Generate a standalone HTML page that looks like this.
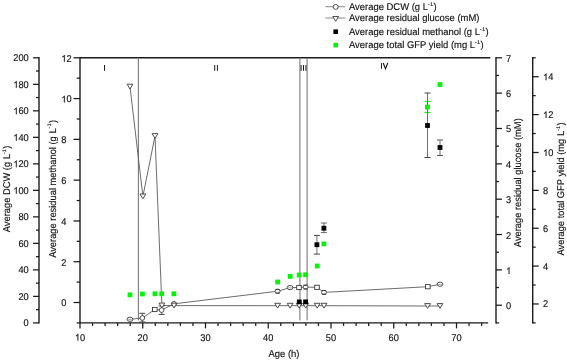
<!DOCTYPE html>
<html><head><meta charset="utf-8"><style>
html,body{margin:0;padding:0;background:#fff;overflow:hidden;width:567px;height:360px;}
svg{display:block;}
text{font-family:"Liberation Sans", sans-serif;text-rendering:geometricPrecision;fill:#111;stroke:#111;stroke-width:0.15;}
</style></head><body>
<div style="will-change:transform;width:567px;height:360px">
<svg width="567" height="360" viewBox="0 0 567 360">
<line x1="80.00" y1="57.80" x2="490.30" y2="57.80" stroke="#1a1a1a" stroke-width="1.4" />
<line x1="80.00" y1="322.90" x2="488.20" y2="322.90" stroke="#1a1a1a" stroke-width="1.4" />
<line x1="80.00" y1="57.10" x2="80.00" y2="323.60" stroke="#1a1a1a" stroke-width="1.4" />
<line x1="80.00" y1="322.90" x2="80.00" y2="328.40" stroke="#1a1a1a" stroke-width="1.25" />
<path transform="translate(74.849,340.600) scale(0.004522,-0.004599)" d="M763,0 L583,0 L583,1147 Q518,1085 412.5,1023 Q307,961 223,930 L223,1104 Q374,1175 487,1276 Q600,1377 641,1466 L763,1466 Z" fill="#111" stroke="#111" stroke-width="31.3"/>
<text transform="translate(80.000,340.600) scale(0.945,1)" font-size="9.8">0</text>
<line x1="92.55" y1="322.90" x2="92.55" y2="325.90" stroke="#1a1a1a" stroke-width="1.25" />
<line x1="105.10" y1="322.90" x2="105.10" y2="325.90" stroke="#1a1a1a" stroke-width="1.25" />
<line x1="117.65" y1="322.90" x2="117.65" y2="325.90" stroke="#1a1a1a" stroke-width="1.25" />
<line x1="130.20" y1="322.90" x2="130.20" y2="325.90" stroke="#1a1a1a" stroke-width="1.25" />
<line x1="142.75" y1="322.90" x2="142.75" y2="328.40" stroke="#1a1a1a" stroke-width="1.25" />
<text transform="translate(137.599,340.600) scale(0.945,1)" font-size="9.8">2</text>
<text transform="translate(142.750,340.600) scale(0.945,1)" font-size="9.8">0</text>
<line x1="155.30" y1="322.90" x2="155.30" y2="325.90" stroke="#1a1a1a" stroke-width="1.25" />
<line x1="167.85" y1="322.90" x2="167.85" y2="325.90" stroke="#1a1a1a" stroke-width="1.25" />
<line x1="180.40" y1="322.90" x2="180.40" y2="325.90" stroke="#1a1a1a" stroke-width="1.25" />
<line x1="192.95" y1="322.90" x2="192.95" y2="325.90" stroke="#1a1a1a" stroke-width="1.25" />
<line x1="205.50" y1="322.90" x2="205.50" y2="328.40" stroke="#1a1a1a" stroke-width="1.25" />
<text transform="translate(200.349,340.600) scale(0.945,1)" font-size="9.8">3</text>
<text transform="translate(205.500,340.600) scale(0.945,1)" font-size="9.8">0</text>
<line x1="218.05" y1="322.90" x2="218.05" y2="325.90" stroke="#1a1a1a" stroke-width="1.25" />
<line x1="230.60" y1="322.90" x2="230.60" y2="325.90" stroke="#1a1a1a" stroke-width="1.25" />
<line x1="243.15" y1="322.90" x2="243.15" y2="325.90" stroke="#1a1a1a" stroke-width="1.25" />
<line x1="255.70" y1="322.90" x2="255.70" y2="325.90" stroke="#1a1a1a" stroke-width="1.25" />
<line x1="268.25" y1="322.90" x2="268.25" y2="328.40" stroke="#1a1a1a" stroke-width="1.25" />
<text transform="translate(263.099,340.600) scale(0.945,1)" font-size="9.8">4</text>
<text transform="translate(268.250,340.600) scale(0.945,1)" font-size="9.8">0</text>
<line x1="280.80" y1="322.90" x2="280.80" y2="325.90" stroke="#1a1a1a" stroke-width="1.25" />
<line x1="293.35" y1="322.90" x2="293.35" y2="325.90" stroke="#1a1a1a" stroke-width="1.25" />
<line x1="305.90" y1="322.90" x2="305.90" y2="325.90" stroke="#1a1a1a" stroke-width="1.25" />
<line x1="318.45" y1="322.90" x2="318.45" y2="325.90" stroke="#1a1a1a" stroke-width="1.25" />
<line x1="331.00" y1="322.90" x2="331.00" y2="328.40" stroke="#1a1a1a" stroke-width="1.25" />
<text transform="translate(325.849,340.600) scale(0.945,1)" font-size="9.8">5</text>
<text transform="translate(331.000,340.600) scale(0.945,1)" font-size="9.8">0</text>
<line x1="343.55" y1="322.90" x2="343.55" y2="325.90" stroke="#1a1a1a" stroke-width="1.25" />
<line x1="356.10" y1="322.90" x2="356.10" y2="325.90" stroke="#1a1a1a" stroke-width="1.25" />
<line x1="368.65" y1="322.90" x2="368.65" y2="325.90" stroke="#1a1a1a" stroke-width="1.25" />
<line x1="381.20" y1="322.90" x2="381.20" y2="325.90" stroke="#1a1a1a" stroke-width="1.25" />
<line x1="393.75" y1="322.90" x2="393.75" y2="328.40" stroke="#1a1a1a" stroke-width="1.25" />
<text transform="translate(388.599,340.600) scale(0.945,1)" font-size="9.8">6</text>
<text transform="translate(393.750,340.600) scale(0.945,1)" font-size="9.8">0</text>
<line x1="406.30" y1="322.90" x2="406.30" y2="325.90" stroke="#1a1a1a" stroke-width="1.25" />
<line x1="418.85" y1="322.90" x2="418.85" y2="325.90" stroke="#1a1a1a" stroke-width="1.25" />
<line x1="431.40" y1="322.90" x2="431.40" y2="325.90" stroke="#1a1a1a" stroke-width="1.25" />
<line x1="443.95" y1="322.90" x2="443.95" y2="325.90" stroke="#1a1a1a" stroke-width="1.25" />
<line x1="456.50" y1="322.90" x2="456.50" y2="328.40" stroke="#1a1a1a" stroke-width="1.25" />
<text transform="translate(451.349,340.600) scale(0.945,1)" font-size="9.8">7</text>
<text transform="translate(456.500,340.600) scale(0.945,1)" font-size="9.8">0</text>
<line x1="469.05" y1="322.90" x2="469.05" y2="325.90" stroke="#1a1a1a" stroke-width="1.25" />
<line x1="481.60" y1="322.90" x2="481.60" y2="325.90" stroke="#1a1a1a" stroke-width="1.25" />
<line x1="39.00" y1="57.10" x2="39.00" y2="323.60" stroke="#1a1a1a" stroke-width="1.4" />
<line x1="33.00" y1="322.90" x2="39.00" y2="322.90" stroke="#1a1a1a" stroke-width="1.25" />
<text transform="translate(23.549,326.300) scale(0.945,1)" font-size="9.8">0</text>
<line x1="36.00" y1="309.64" x2="39.00" y2="309.64" stroke="#1a1a1a" stroke-width="1.25" />
<line x1="33.00" y1="296.39" x2="39.00" y2="296.39" stroke="#1a1a1a" stroke-width="1.25" />
<text transform="translate(18.399,299.790) scale(0.945,1)" font-size="9.8">2</text>
<text transform="translate(23.549,299.790) scale(0.945,1)" font-size="9.8">0</text>
<line x1="36.00" y1="283.13" x2="39.00" y2="283.13" stroke="#1a1a1a" stroke-width="1.25" />
<line x1="33.00" y1="269.88" x2="39.00" y2="269.88" stroke="#1a1a1a" stroke-width="1.25" />
<text transform="translate(18.399,273.280) scale(0.945,1)" font-size="9.8">4</text>
<text transform="translate(23.549,273.280) scale(0.945,1)" font-size="9.8">0</text>
<line x1="36.00" y1="256.62" x2="39.00" y2="256.62" stroke="#1a1a1a" stroke-width="1.25" />
<line x1="33.00" y1="243.37" x2="39.00" y2="243.37" stroke="#1a1a1a" stroke-width="1.25" />
<text transform="translate(18.399,246.770) scale(0.945,1)" font-size="9.8">6</text>
<text transform="translate(23.549,246.770) scale(0.945,1)" font-size="9.8">0</text>
<line x1="36.00" y1="230.12" x2="39.00" y2="230.12" stroke="#1a1a1a" stroke-width="1.25" />
<line x1="33.00" y1="216.86" x2="39.00" y2="216.86" stroke="#1a1a1a" stroke-width="1.25" />
<text transform="translate(18.399,220.260) scale(0.945,1)" font-size="9.8">8</text>
<text transform="translate(23.549,220.260) scale(0.945,1)" font-size="9.8">0</text>
<line x1="36.00" y1="203.60" x2="39.00" y2="203.60" stroke="#1a1a1a" stroke-width="1.25" />
<line x1="33.00" y1="190.35" x2="39.00" y2="190.35" stroke="#1a1a1a" stroke-width="1.25" />
<path transform="translate(13.248,193.750) scale(0.004522,-0.004599)" d="M763,0 L583,0 L583,1147 Q518,1085 412.5,1023 Q307,961 223,930 L223,1104 Q374,1175 487,1276 Q600,1377 641,1466 L763,1466 Z" fill="#111" stroke="#111" stroke-width="31.3"/>
<text transform="translate(18.399,193.750) scale(0.945,1)" font-size="9.8">0</text>
<text transform="translate(23.549,193.750) scale(0.945,1)" font-size="9.8">0</text>
<line x1="36.00" y1="177.09" x2="39.00" y2="177.09" stroke="#1a1a1a" stroke-width="1.25" />
<line x1="33.00" y1="163.84" x2="39.00" y2="163.84" stroke="#1a1a1a" stroke-width="1.25" />
<path transform="translate(13.248,167.240) scale(0.004522,-0.004599)" d="M763,0 L583,0 L583,1147 Q518,1085 412.5,1023 Q307,961 223,930 L223,1104 Q374,1175 487,1276 Q600,1377 641,1466 L763,1466 Z" fill="#111" stroke="#111" stroke-width="31.3"/>
<text transform="translate(18.399,167.240) scale(0.945,1)" font-size="9.8">2</text>
<text transform="translate(23.549,167.240) scale(0.945,1)" font-size="9.8">0</text>
<line x1="36.00" y1="150.59" x2="39.00" y2="150.59" stroke="#1a1a1a" stroke-width="1.25" />
<line x1="33.00" y1="137.33" x2="39.00" y2="137.33" stroke="#1a1a1a" stroke-width="1.25" />
<path transform="translate(13.248,140.730) scale(0.004522,-0.004599)" d="M763,0 L583,0 L583,1147 Q518,1085 412.5,1023 Q307,961 223,930 L223,1104 Q374,1175 487,1276 Q600,1377 641,1466 L763,1466 Z" fill="#111" stroke="#111" stroke-width="31.3"/>
<text transform="translate(18.399,140.730) scale(0.945,1)" font-size="9.8">4</text>
<text transform="translate(23.549,140.730) scale(0.945,1)" font-size="9.8">0</text>
<line x1="36.00" y1="124.08" x2="39.00" y2="124.08" stroke="#1a1a1a" stroke-width="1.25" />
<line x1="33.00" y1="110.82" x2="39.00" y2="110.82" stroke="#1a1a1a" stroke-width="1.25" />
<path transform="translate(13.248,114.220) scale(0.004522,-0.004599)" d="M763,0 L583,0 L583,1147 Q518,1085 412.5,1023 Q307,961 223,930 L223,1104 Q374,1175 487,1276 Q600,1377 641,1466 L763,1466 Z" fill="#111" stroke="#111" stroke-width="31.3"/>
<text transform="translate(18.399,114.220) scale(0.945,1)" font-size="9.8">6</text>
<text transform="translate(23.549,114.220) scale(0.945,1)" font-size="9.8">0</text>
<line x1="36.00" y1="97.57" x2="39.00" y2="97.57" stroke="#1a1a1a" stroke-width="1.25" />
<line x1="33.00" y1="84.31" x2="39.00" y2="84.31" stroke="#1a1a1a" stroke-width="1.25" />
<path transform="translate(13.248,87.710) scale(0.004522,-0.004599)" d="M763,0 L583,0 L583,1147 Q518,1085 412.5,1023 Q307,961 223,930 L223,1104 Q374,1175 487,1276 Q600,1377 641,1466 L763,1466 Z" fill="#111" stroke="#111" stroke-width="31.3"/>
<text transform="translate(18.399,87.710) scale(0.945,1)" font-size="9.8">8</text>
<text transform="translate(23.549,87.710) scale(0.945,1)" font-size="9.8">0</text>
<line x1="36.00" y1="71.06" x2="39.00" y2="71.06" stroke="#1a1a1a" stroke-width="1.25" />
<line x1="33.00" y1="57.80" x2="39.00" y2="57.80" stroke="#1a1a1a" stroke-width="1.25" />
<text transform="translate(13.248,61.200) scale(0.945,1)" font-size="9.8">2</text>
<text transform="translate(18.399,61.200) scale(0.945,1)" font-size="9.8">0</text>
<text transform="translate(23.549,61.200) scale(0.945,1)" font-size="9.8">0</text>
<line x1="76.70" y1="322.90" x2="80.00" y2="322.90" stroke="#1a1a1a" stroke-width="1.25" />
<line x1="73.50" y1="302.51" x2="80.00" y2="302.51" stroke="#1a1a1a" stroke-width="1.25" />
<text transform="translate(61.300,306.408) scale(0.945,1)" font-size="9.8">0</text>
<line x1="76.70" y1="282.12" x2="80.00" y2="282.12" stroke="#1a1a1a" stroke-width="1.25" />
<line x1="73.50" y1="261.72" x2="80.00" y2="261.72" stroke="#1a1a1a" stroke-width="1.25" />
<text transform="translate(61.300,265.623) scale(0.945,1)" font-size="9.8">2</text>
<line x1="76.70" y1="241.33" x2="80.00" y2="241.33" stroke="#1a1a1a" stroke-width="1.25" />
<line x1="73.50" y1="220.94" x2="80.00" y2="220.94" stroke="#1a1a1a" stroke-width="1.25" />
<text transform="translate(61.300,224.838) scale(0.945,1)" font-size="9.8">4</text>
<line x1="76.70" y1="200.55" x2="80.00" y2="200.55" stroke="#1a1a1a" stroke-width="1.25" />
<line x1="73.50" y1="180.15" x2="80.00" y2="180.15" stroke="#1a1a1a" stroke-width="1.25" />
<text transform="translate(61.300,184.054) scale(0.945,1)" font-size="9.8">6</text>
<line x1="76.70" y1="159.76" x2="80.00" y2="159.76" stroke="#1a1a1a" stroke-width="1.25" />
<line x1="73.50" y1="139.37" x2="80.00" y2="139.37" stroke="#1a1a1a" stroke-width="1.25" />
<text transform="translate(61.300,143.269) scale(0.945,1)" font-size="9.8">8</text>
<line x1="76.70" y1="118.98" x2="80.00" y2="118.98" stroke="#1a1a1a" stroke-width="1.25" />
<line x1="73.50" y1="98.58" x2="80.00" y2="98.58" stroke="#1a1a1a" stroke-width="1.25" />
<path transform="translate(61.300,102.485) scale(0.004522,-0.004599)" d="M763,0 L583,0 L583,1147 Q518,1085 412.5,1023 Q307,961 223,930 L223,1104 Q374,1175 487,1276 Q600,1377 641,1466 L763,1466 Z" fill="#111" stroke="#111" stroke-width="31.3"/>
<text transform="translate(66.451,102.485) scale(0.945,1)" font-size="9.8">0</text>
<line x1="76.70" y1="78.19" x2="80.00" y2="78.19" stroke="#1a1a1a" stroke-width="1.25" />
<line x1="73.50" y1="57.80" x2="80.00" y2="57.80" stroke="#1a1a1a" stroke-width="1.25" />
<path transform="translate(61.300,61.700) scale(0.004522,-0.004599)" d="M763,0 L583,0 L583,1147 Q518,1085 412.5,1023 Q307,961 223,930 L223,1104 Q374,1175 487,1276 Q600,1377 641,1466 L763,1466 Z" fill="#111" stroke="#111" stroke-width="31.3"/>
<text transform="translate(66.451,61.700) scale(0.945,1)" font-size="9.8">2</text>
<line x1="496.00" y1="57.10" x2="496.00" y2="323.60" stroke="#1a1a1a" stroke-width="1.4" />
<line x1="496.00" y1="322.90" x2="499.00" y2="322.90" stroke="#1a1a1a" stroke-width="1.25" />
<line x1="496.00" y1="305.23" x2="502.00" y2="305.23" stroke="#1a1a1a" stroke-width="1.25" />
<text transform="translate(506.000,309.227) scale(0.945,1)" font-size="9.8">0</text>
<line x1="496.00" y1="287.55" x2="499.00" y2="287.55" stroke="#1a1a1a" stroke-width="1.25" />
<line x1="496.00" y1="269.88" x2="502.00" y2="269.88" stroke="#1a1a1a" stroke-width="1.25" />
<path transform="translate(506.000,273.880) scale(0.004522,-0.004599)" d="M763,0 L583,0 L583,1147 Q518,1085 412.5,1023 Q307,961 223,930 L223,1104 Q374,1175 487,1276 Q600,1377 641,1466 L763,1466 Z" fill="#111" stroke="#111" stroke-width="31.3"/>
<line x1="496.00" y1="252.21" x2="499.00" y2="252.21" stroke="#1a1a1a" stroke-width="1.25" />
<line x1="496.00" y1="234.53" x2="502.00" y2="234.53" stroke="#1a1a1a" stroke-width="1.25" />
<text transform="translate(506.000,238.533) scale(0.945,1)" font-size="9.8">2</text>
<line x1="496.00" y1="216.86" x2="499.00" y2="216.86" stroke="#1a1a1a" stroke-width="1.25" />
<line x1="496.00" y1="199.19" x2="502.00" y2="199.19" stroke="#1a1a1a" stroke-width="1.25" />
<text transform="translate(506.000,203.187) scale(0.945,1)" font-size="9.8">3</text>
<line x1="496.00" y1="181.51" x2="499.00" y2="181.51" stroke="#1a1a1a" stroke-width="1.25" />
<line x1="496.00" y1="163.84" x2="502.00" y2="163.84" stroke="#1a1a1a" stroke-width="1.25" />
<text transform="translate(506.000,167.840) scale(0.945,1)" font-size="9.8">4</text>
<line x1="496.00" y1="146.17" x2="499.00" y2="146.17" stroke="#1a1a1a" stroke-width="1.25" />
<line x1="496.00" y1="128.49" x2="502.00" y2="128.49" stroke="#1a1a1a" stroke-width="1.25" />
<text transform="translate(506.000,132.493) scale(0.945,1)" font-size="9.8">5</text>
<line x1="496.00" y1="110.82" x2="499.00" y2="110.82" stroke="#1a1a1a" stroke-width="1.25" />
<line x1="496.00" y1="93.15" x2="502.00" y2="93.15" stroke="#1a1a1a" stroke-width="1.25" />
<text transform="translate(506.000,97.147) scale(0.945,1)" font-size="9.8">6</text>
<line x1="496.00" y1="75.47" x2="499.00" y2="75.47" stroke="#1a1a1a" stroke-width="1.25" />
<line x1="496.00" y1="57.80" x2="502.00" y2="57.80" stroke="#1a1a1a" stroke-width="1.25" />
<text transform="translate(506.000,61.800) scale(0.945,1)" font-size="9.8">7</text>
<line x1="532.70" y1="57.10" x2="532.70" y2="323.60" stroke="#1a1a1a" stroke-width="1.4" />
<line x1="532.70" y1="322.90" x2="535.70" y2="322.90" stroke="#1a1a1a" stroke-width="1.25" />
<line x1="532.70" y1="303.96" x2="538.70" y2="303.96" stroke="#1a1a1a" stroke-width="1.25" />
<text transform="translate(543.000,307.464) scale(0.945,1)" font-size="9.8">2</text>
<line x1="532.70" y1="285.03" x2="535.70" y2="285.03" stroke="#1a1a1a" stroke-width="1.25" />
<line x1="532.70" y1="266.09" x2="538.70" y2="266.09" stroke="#1a1a1a" stroke-width="1.25" />
<text transform="translate(543.000,269.593) scale(0.945,1)" font-size="9.8">4</text>
<line x1="532.70" y1="247.16" x2="535.70" y2="247.16" stroke="#1a1a1a" stroke-width="1.25" />
<line x1="532.70" y1="228.22" x2="538.70" y2="228.22" stroke="#1a1a1a" stroke-width="1.25" />
<text transform="translate(543.000,231.721) scale(0.945,1)" font-size="9.8">6</text>
<line x1="532.70" y1="209.29" x2="535.70" y2="209.29" stroke="#1a1a1a" stroke-width="1.25" />
<line x1="532.70" y1="190.35" x2="538.70" y2="190.35" stroke="#1a1a1a" stroke-width="1.25" />
<text transform="translate(543.000,193.850) scale(0.945,1)" font-size="9.8">8</text>
<line x1="532.70" y1="171.41" x2="535.70" y2="171.41" stroke="#1a1a1a" stroke-width="1.25" />
<line x1="532.70" y1="152.48" x2="538.70" y2="152.48" stroke="#1a1a1a" stroke-width="1.25" />
<path transform="translate(543.000,155.979) scale(0.004522,-0.004599)" d="M763,0 L583,0 L583,1147 Q518,1085 412.5,1023 Q307,961 223,930 L223,1104 Q374,1175 487,1276 Q600,1377 641,1466 L763,1466 Z" fill="#111" stroke="#111" stroke-width="31.3"/>
<text transform="translate(548.151,155.979) scale(0.945,1)" font-size="9.8">0</text>
<line x1="532.70" y1="133.54" x2="535.70" y2="133.54" stroke="#1a1a1a" stroke-width="1.25" />
<line x1="532.70" y1="114.61" x2="538.70" y2="114.61" stroke="#1a1a1a" stroke-width="1.25" />
<path transform="translate(543.000,118.107) scale(0.004522,-0.004599)" d="M763,0 L583,0 L583,1147 Q518,1085 412.5,1023 Q307,961 223,930 L223,1104 Q374,1175 487,1276 Q600,1377 641,1466 L763,1466 Z" fill="#111" stroke="#111" stroke-width="31.3"/>
<text transform="translate(548.151,118.107) scale(0.945,1)" font-size="9.8">2</text>
<line x1="532.70" y1="95.67" x2="535.70" y2="95.67" stroke="#1a1a1a" stroke-width="1.25" />
<line x1="532.70" y1="76.74" x2="538.70" y2="76.74" stroke="#1a1a1a" stroke-width="1.25" />
<path transform="translate(543.000,80.236) scale(0.004522,-0.004599)" d="M763,0 L583,0 L583,1147 Q518,1085 412.5,1023 Q307,961 223,930 L223,1104 Q374,1175 487,1276 Q600,1377 641,1466 L763,1466 Z" fill="#111" stroke="#111" stroke-width="31.3"/>
<text transform="translate(548.151,80.236) scale(0.945,1)" font-size="9.8">4</text>
<line x1="532.70" y1="57.80" x2="535.70" y2="57.80" stroke="#1a1a1a" stroke-width="1.25" />
<line x1="138.40" y1="57.80" x2="138.40" y2="320.60" stroke="#7a7a7a" stroke-width="1.1" />
<line x1="299.90" y1="57.80" x2="299.90" y2="320.60" stroke="#7a7a7a" stroke-width="1.1" />
<line x1="307.10" y1="57.80" x2="307.10" y2="320.60" stroke="#7a7a7a" stroke-width="1.1" />
<rect x="104.00" y="65.0" width="1.0" height="5.80" fill="#1e1e1e"/>
<rect x="214.20" y="65.0" width="1.0" height="5.80" fill="#1e1e1e"/>
<rect x="216.90" y="65.0" width="1.0" height="5.80" fill="#1e1e1e"/>
<rect x="300.60" y="65.0" width="1.0" height="5.80" fill="#1e1e1e"/>
<rect x="303.00" y="65.0" width="1.0" height="5.80" fill="#1e1e1e"/>
<rect x="305.40" y="65.0" width="1.0" height="5.80" fill="#1e1e1e"/>
<rect x="381.00" y="63.0" width="1.0" height="5.80" fill="#1e1e1e"/>
<polyline points="383.2,63.0 385.5,68.8 387.8,63.0" fill="none" stroke="#1e1e1e" stroke-width="1.15" stroke-linejoin="miter"/>
<polyline fill="none" stroke="#5a5a5a" stroke-width="0.9" points="130,319.3 142.3,318.0 154.8,309.5 161.6,310.1 174.0,303.8 277.6,291.25 290.1,287.6 299.0,287.5 305.6,287.1 317.0,287.3 324.0,292.4 427.8,286.7 440.0,284.2"/>
<polyline fill="none" stroke="#5a5a5a" stroke-width="0.9" points="130,86.6 142.9,196.4 155,136 161.9,305.5 174.0,305.6 277.6,305.7 290.1,305.7 299.2,305.7 305.7,305.7 317.2,305.7 324.0,305.7 427.6,306.0 440.0,306.0"/>
<line x1="142.30" y1="313.30" x2="142.30" y2="322.00" stroke="#444" stroke-width="0.9" />
<line x1="139.40" y1="313.30" x2="145.20" y2="313.30" stroke="#444" stroke-width="1.0" />
<line x1="139.40" y1="322.00" x2="145.20" y2="322.00" stroke="#444" stroke-width="1.0" />
<line x1="161.60" y1="306.00" x2="161.60" y2="314.40" stroke="#444" stroke-width="0.9" />
<line x1="158.60" y1="306.00" x2="164.60" y2="306.00" stroke="#444" stroke-width="1.0" />
<line x1="158.60" y1="314.40" x2="164.60" y2="314.40" stroke="#444" stroke-width="1.0" />
<ellipse cx="130" cy="319.3" rx="2.9" ry="2.1" fill="#fff" stroke="#3a3a3a" stroke-width="0.9"/>
<line x1="127.30" y1="319.50" x2="132.70" y2="319.50" stroke="#666" stroke-width="0.5" />
<circle cx="142.3" cy="318.0" r="2.35" fill="#fff" stroke="#3a3a3a" stroke-width="0.9"/>
<rect x="152.50" y="307.40" width="4.6" height="4.2" fill="#fff" stroke="#3a3a3a" stroke-width="0.9"/>
<circle cx="161.6" cy="310.1" r="2.35" fill="#fff" stroke="#3a3a3a" stroke-width="0.9"/>
<circle cx="174.0" cy="303.8" r="2.35" fill="#fff" stroke="#3a3a3a" stroke-width="0.9"/>
<ellipse cx="277.6" cy="291.25" rx="2.5" ry="2.0" fill="#fff" stroke="#3a3a3a" stroke-width="0.9"/>
<line x1="275.50" y1="289.35" x2="279.70" y2="289.35" stroke="#3a3a3a" stroke-width="1.0" />
<line x1="275.50" y1="293.15" x2="279.70" y2="293.15" stroke="#3a3a3a" stroke-width="1.0" />
<ellipse cx="290.1" cy="287.6" rx="2.9" ry="2.1" fill="#fff" stroke="#3a3a3a" stroke-width="0.9"/>
<line x1="287.40" y1="287.80" x2="292.80" y2="287.80" stroke="#666" stroke-width="0.5" />
<rect x="296.70" y="285.40" width="4.6" height="4.2" fill="#fff" stroke="#3a3a3a" stroke-width="0.9"/>
<ellipse cx="305.6" cy="287.1" rx="2.5" ry="2.0" fill="#fff" stroke="#3a3a3a" stroke-width="0.9"/>
<line x1="303.50" y1="285.20" x2="307.70" y2="285.20" stroke="#3a3a3a" stroke-width="1.0" />
<line x1="303.50" y1="289.00" x2="307.70" y2="289.00" stroke="#3a3a3a" stroke-width="1.0" />
<rect x="314.70" y="285.20" width="4.6" height="4.2" fill="#fff" stroke="#3a3a3a" stroke-width="0.9"/>
<ellipse cx="324.0" cy="292.4" rx="2.5" ry="2.0" fill="#fff" stroke="#3a3a3a" stroke-width="0.9"/>
<line x1="321.90" y1="290.50" x2="326.10" y2="290.50" stroke="#3a3a3a" stroke-width="1.0" />
<line x1="321.90" y1="294.30" x2="326.10" y2="294.30" stroke="#3a3a3a" stroke-width="1.0" />
<rect x="425.50" y="284.60" width="4.6" height="4.2" fill="#fff" stroke="#3a3a3a" stroke-width="0.9"/>
<ellipse cx="440.0" cy="284.2" rx="2.9" ry="2.1" fill="#fff" stroke="#3a3a3a" stroke-width="0.9"/>
<line x1="437.30" y1="284.40" x2="442.70" y2="284.40" stroke="#666" stroke-width="0.5" />
<polygon points="127.10,84.20 132.90,84.20 130.00,89.00" fill="#fff" stroke="#3a3a3a" stroke-width="0.9" stroke-linejoin="miter"/>
<polygon points="140.00,194.00 145.80,194.00 142.90,198.80" fill="#fff" stroke="#3a3a3a" stroke-width="0.9" stroke-linejoin="miter"/>
<polygon points="152.10,133.60 157.90,133.60 155.00,138.40" fill="#fff" stroke="#3a3a3a" stroke-width="0.9" stroke-linejoin="miter"/>
<polygon points="159.00,303.10 164.80,303.10 161.90,307.90" fill="#fff" stroke="#3a3a3a" stroke-width="0.9" stroke-linejoin="miter"/>
<polygon points="171.10,303.20 176.90,303.20 174.00,308.00" fill="#fff" stroke="#3a3a3a" stroke-width="0.9" stroke-linejoin="miter"/>
<polygon points="274.70,303.30 280.50,303.30 277.60,308.10" fill="#fff" stroke="#3a3a3a" stroke-width="0.9" stroke-linejoin="miter"/>
<polygon points="287.20,303.30 293.00,303.30 290.10,308.10" fill="#fff" stroke="#3a3a3a" stroke-width="0.9" stroke-linejoin="miter"/>
<polygon points="296.30,303.30 302.10,303.30 299.20,308.10" fill="#fff" stroke="#3a3a3a" stroke-width="0.9" stroke-linejoin="miter"/>
<polygon points="302.80,303.30 308.60,303.30 305.70,308.10" fill="#fff" stroke="#3a3a3a" stroke-width="0.9" stroke-linejoin="miter"/>
<polygon points="314.30,303.30 320.10,303.30 317.20,308.10" fill="#fff" stroke="#3a3a3a" stroke-width="0.9" stroke-linejoin="miter"/>
<polygon points="321.10,303.30 326.90,303.30 324.00,308.10" fill="#fff" stroke="#3a3a3a" stroke-width="0.9" stroke-linejoin="miter"/>
<polygon points="424.70,303.60 430.50,303.60 427.60,308.40" fill="#fff" stroke="#3a3a3a" stroke-width="0.9" stroke-linejoin="miter"/>
<polygon points="437.10,303.60 442.90,303.60 440.00,308.40" fill="#fff" stroke="#3a3a3a" stroke-width="0.9" stroke-linejoin="miter"/>
<line x1="427.40" y1="101.40" x2="427.40" y2="112.60" stroke="#06f206" stroke-width="0.9" />
<line x1="424.40" y1="101.40" x2="430.40" y2="101.40" stroke="#06f206" stroke-width="1.0" />
<line x1="424.40" y1="112.60" x2="430.40" y2="112.60" stroke="#06f206" stroke-width="1.0" />
<line x1="427.50" y1="93.00" x2="427.50" y2="157.50" stroke="#555" stroke-width="0.85" />
<line x1="424.50" y1="93.00" x2="430.50" y2="93.00" stroke="#444" stroke-width="1.0" />
<line x1="424.50" y1="157.50" x2="430.50" y2="157.50" stroke="#444" stroke-width="1.0" />
<line x1="440.00" y1="140.00" x2="440.00" y2="155.50" stroke="#555" stroke-width="0.85" />
<line x1="437.00" y1="140.00" x2="443.00" y2="140.00" stroke="#555" stroke-width="1.0" />
<line x1="437.00" y1="155.50" x2="443.00" y2="155.50" stroke="#555" stroke-width="1.0" />
<line x1="316.90" y1="235.40" x2="316.90" y2="254.10" stroke="#555" stroke-width="0.85" />
<line x1="313.90" y1="235.40" x2="319.90" y2="235.40" stroke="#444" stroke-width="1.0" />
<line x1="313.90" y1="254.10" x2="319.90" y2="254.10" stroke="#444" stroke-width="1.0" />
<line x1="323.90" y1="223.00" x2="323.90" y2="232.60" stroke="#555" stroke-width="0.85" />
<line x1="320.90" y1="223.00" x2="326.90" y2="223.00" stroke="#666" stroke-width="1.0" />
<line x1="320.90" y1="232.60" x2="326.90" y2="232.60" stroke="#666" stroke-width="1.0" />
<rect x="127.60" y="292.40" width="4.8" height="4.8" fill="#06f206"/>
<rect x="140.00" y="291.60" width="4.8" height="4.8" fill="#06f206"/>
<rect x="152.60" y="291.40" width="4.8" height="4.8" fill="#06f206"/>
<rect x="159.30" y="291.40" width="4.8" height="4.8" fill="#06f206"/>
<rect x="171.50" y="291.40" width="4.8" height="4.8" fill="#06f206"/>
<rect x="275.30" y="279.60" width="4.8" height="4.8" fill="#06f206"/>
<rect x="287.80" y="274.00" width="4.8" height="4.8" fill="#06f206"/>
<rect x="296.80" y="272.60" width="4.8" height="4.8" fill="#06f206"/>
<rect x="303.20" y="272.35" width="4.8" height="4.8" fill="#06f206"/>
<rect x="314.85" y="263.60" width="4.8" height="4.8" fill="#06f206"/>
<rect x="321.50" y="241.50" width="4.8" height="4.8" fill="#06f206"/>
<rect x="425.00" y="104.60" width="4.8" height="4.8" fill="#06f206"/>
<rect x="437.60" y="82.10" width="4.8" height="4.8" fill="#06f206"/>
<rect x="296.90" y="299.50" width="4.8" height="4.8" fill="#000"/>
<rect x="303.20" y="299.50" width="4.8" height="4.8" fill="#000"/>
<rect x="314.50" y="242.30" width="4.8" height="4.8" fill="#000"/>
<rect x="321.50" y="225.80" width="4.8" height="4.8" fill="#000"/>
<rect x="425.10" y="123.10" width="4.8" height="4.8" fill="#000"/>
<rect x="437.60" y="145.10" width="4.8" height="4.8" fill="#000"/>
<text transform="translate(10.00,188.90) rotate(-90) scale(0.952,1)" font-size="9.8" text-anchor="middle">Average DCW (g L<tspan dy="-4.3" font-size="5.2" letter-spacing="0.5">-1</tspan><tspan dy="4.3">)</tspan></text>
<text transform="translate(55.60,188.90) rotate(-90) scale(0.952,1)" font-size="9.8" text-anchor="middle">Average residual methanol (g L<tspan dy="-4.3" font-size="5.2" letter-spacing="0.5">-1</tspan><tspan dy="4.3">)</tspan></text>
<text transform="translate(521.00,182.70) rotate(-90) scale(0.952,1)" font-size="9.8" text-anchor="middle">Average residual glucose (mM)</text>
<text transform="translate(564.20,189.00) rotate(-90) scale(0.952,1)" font-size="9.8" text-anchor="middle">Average total GFP yield (mg L<tspan dy="-4.3" font-size="5.2" letter-spacing="0.5">-1</tspan><tspan dy="4.3">)</tspan></text>
<text transform="translate(284.00,356.50) scale(0.964,1)" font-size="9.8" text-anchor="middle" >Age (h)</text>
<line x1="325.40" y1="6.70" x2="345.40" y2="6.70" stroke="#8a8a8a" stroke-width="1.0" />
<circle cx="335.7" cy="6.9" r="2.5" fill="#fff" stroke="#3a3a3a" stroke-width="0.9"/>
<line x1="325.40" y1="18.00" x2="345.40" y2="18.00" stroke="#8a8a8a" stroke-width="1.0" />
<polygon points="332.80,16.50 338.60,16.50 335.70,21.30" fill="#fff" stroke="#3a3a3a" stroke-width="0.9" stroke-linejoin="miter"/>
<rect x="333.40" y="29.40" width="4.6" height="4.6" fill="#000"/>
<rect x="333.40" y="42.80" width="4.6" height="4.6" fill="#06f206"/>
<text transform="translate(348.90,9.90) scale(0.964,1)" font-size="9.8" text-anchor="start" >Average DCW (g L<tspan dy="-4.3" font-size="5.2" letter-spacing="0.5">-1</tspan><tspan dy="4.3">)</tspan></text>
<text transform="translate(348.90,21.20) scale(0.964,1)" font-size="9.8" text-anchor="start" >Average residual glucose (mM)</text>
<text transform="translate(348.90,34.80) scale(0.964,1)" font-size="9.8" text-anchor="start" >Average residual methanol (g L<tspan dy="-4.3" font-size="5.2" letter-spacing="0.5">-1</tspan><tspan dy="4.3">)</tspan></text>
<text transform="translate(348.90,47.90) scale(0.964,1)" font-size="9.8" text-anchor="start" >Average total GFP yield (mg L<tspan dy="-4.3" font-size="5.2" letter-spacing="0.5">-1</tspan><tspan dy="4.3">)</tspan></text>
</svg>
</div>
</body></html>
